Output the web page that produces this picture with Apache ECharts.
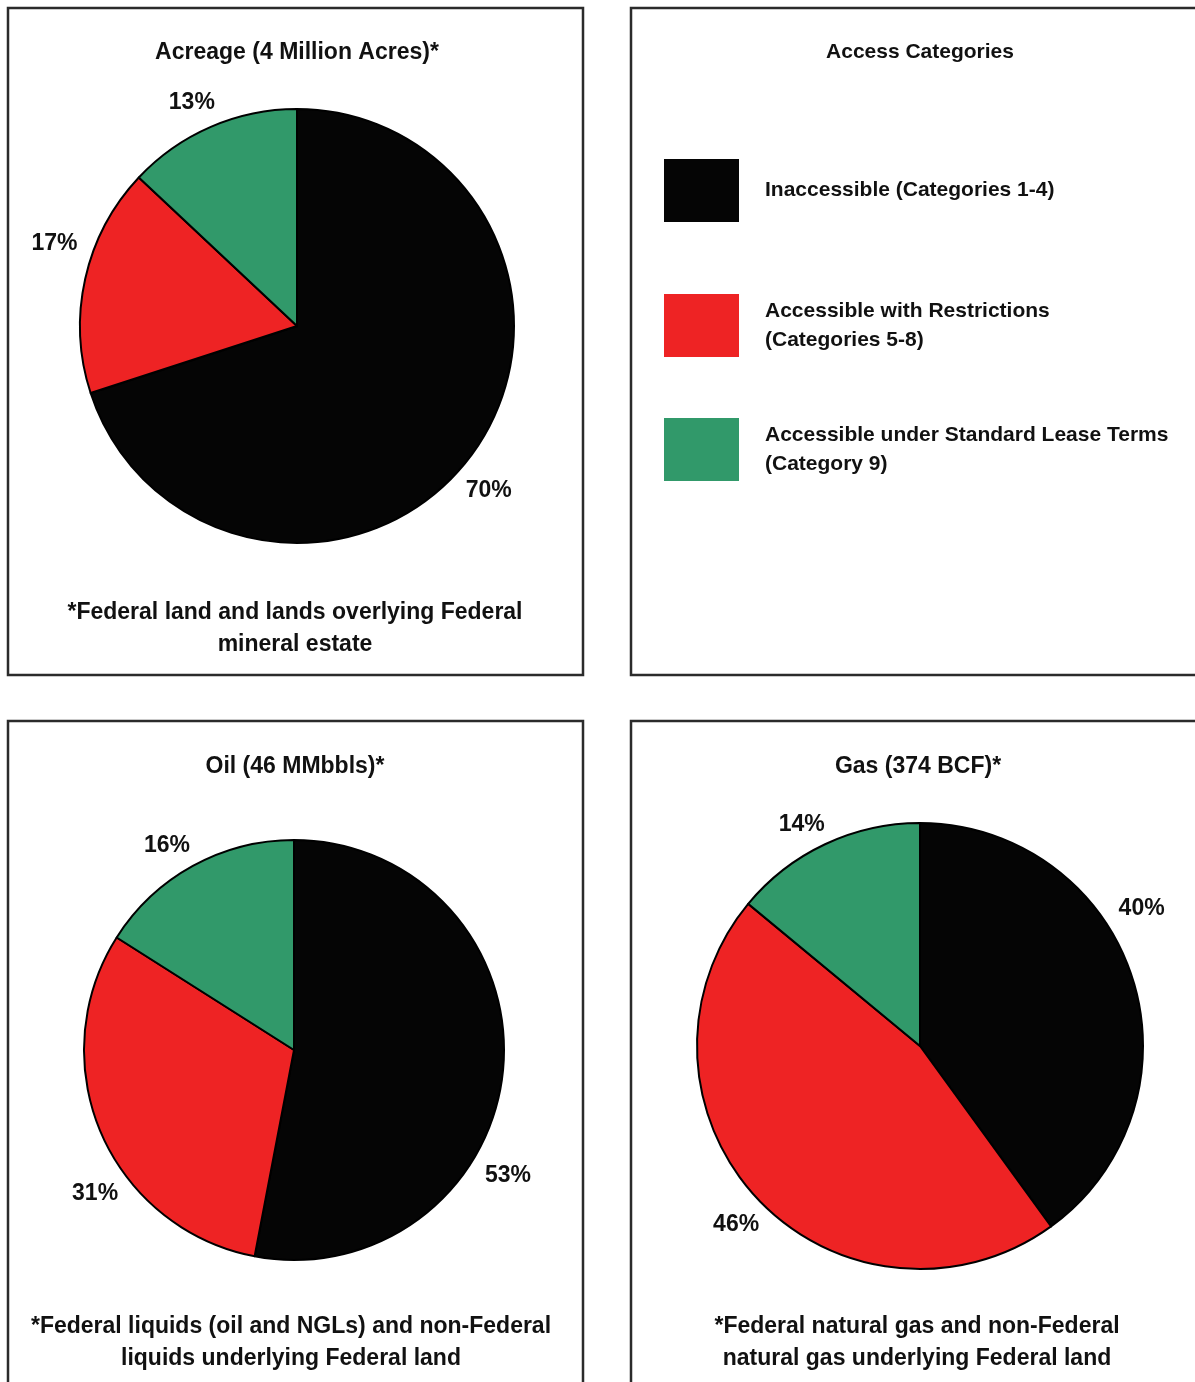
<!DOCTYPE html>
<html>
<head>
<meta charset="utf-8">
<script src="https://cdn.jsdelivr.net/npm/echarts@6/dist/echarts.min.js"></script>
<style>
html,body{margin:0;padding:0;background:#fff;}
#chart{width:1195px;height:1382px;}
</style>
</head>
<body>
<div id="chart"></div>
<script>
// ---- data ----
var categories = ['Inaccessible (Categories 1-4)', 'Accessible with Restrictions (Categories 5-8)', 'Accessible under Standard Lease Terms (Category 9)'];
var legendLabels = ['Inaccessible (Categories 1-4)', 'Accessible with Restrictions\n(Categories 5-8)', 'Accessible under Standard Lease Terms\n(Category 9)'];
var acreageValues = [70, 17, 13];
var oilValues = [53, 31, 16];
var gasValues = [40, 46, 14];
var panelTitles = ['Acreage (4 Million Acres)*', 'Access Categories', 'Oil (46 MMbbls)*', 'Gas (374 BCF)*'];
var footnotes = [
  '*Federal land and lands overlying Federal\nmineral estate',
  '*Federal liquids (oil and NGLs) and non-Federal\nliquids underlying Federal land',
  '*Federal natural gas and non-Federal\nnatural gas underlying Federal land'
];

// ---- styles / layout ----
var COLORS = ['#050505', '#ee2324', '#31996a'];
var FONT = '"Liberation Sans", Arial, sans-serif';
var FS = 23;
// label nudges (pixels) relative to default outside placement, per slice
var acreageNudge = [[-20, 31], [7, -33], [13, -15]];
var oilNudge = [[-33, 105], [31, 56], [7, -12]];
var gasNudge = [[-28, -65], [14, 19], [9, -11]];

function buildData(values) {
  return values.map(function (v, i) {
    return { name: categories[i], value: v, itemStyle: { color: COLORS[i] } };
  });
}

function pieSeries(values, center, radius, nudge) {
  return {
    type: 'pie',
    center: center,
    radius: radius,
    startAngle: 90,
    clockwise: true,
    avoidLabelOverlap: false,
    silent: true,
    itemStyle: { borderColor: '#000', borderWidth: 2 },
    label: {
      show: true,
      position: 'outside',
      formatter: '{c}%',
      color: '#111',
      fontFamily: FONT,
      fontWeight: 'bold',
      fontSize: FS
    },
    labelLine: { show: false, length: 10, length2: 0 },
    labelLayout: function (p) {
      var n = nudge[p.dataIndex];
      return { dx: n[0], dy: n[1] };
    },
    data: buildData(values)
  };
}

function legendFor(i, top) {
  return {
    left: 664,
    top: top,
    orient: 'vertical',
    padding: 0,
    itemWidth: 75,
    itemHeight: 63,
    icon: 'rect',
    selectedMode: false,
    itemStyle: { borderWidth: 0 },
    data: [categories[i]],
    formatter: function () { return legendLabels[i]; },
    textStyle: {
      fontFamily: FONT,
      fontWeight: 'bold',
      fontSize: 21,
      lineHeight: 29,
      color: '#111',
      padding: [0, 0, 0, 21]
    }
  };
}

function textEl(x, y, txt, size, lh) {
  return {
    type: 'text',
    x: x,
    y: y,
    silent: true,
    style: {
      text: txt,
      fill: '#111',
      font: 'bold ' + size + 'px ' + FONT,
      lineHeight: lh || size,
      textAlign: 'center',
      textVerticalAlign: 'middle'
    }
  };
}

function box(x, y, w, h) {
  return {
    type: 'rect',
    silent: true,
    shape: { x: x, y: y, width: w, height: h },
    style: { fill: 'none', stroke: '#2b2b2b', lineWidth: 2.5 }
  };
}

var chart = echarts.init(document.getElementById('chart'), null, { renderer: 'canvas' });
chart.setOption({
  animation: false,
  backgroundColor: '#fff',
  legend: [legendFor(0, 159), legendFor(1, 294), legendFor(2, 418)],
  graphic: [
    box(8, 8, 575, 667),
    box(631, 8, 600, 667),
    box(8, 721, 575, 700),
    box(631, 721, 600, 700),
    textEl(297, 53, panelTitles[0], 23),
    textEl(920, 52, panelTitles[1], 21),
    textEl(295, 767, panelTitles[2], 23),
    textEl(918, 767, panelTitles[3], 23),
    textEl(295, 629, footnotes[0], 23, 32),
    textEl(291, 1343, footnotes[1], 23, 32),
    textEl(917, 1343, footnotes[2], 23, 32)
  ],
  series: [
    pieSeries(acreageValues, [297, 326], 217, acreageNudge),
    pieSeries(oilValues, [294, 1050], 210, oilNudge),
    pieSeries(gasValues, [920, 1046], 223, gasNudge)
  ]
});
</script>
</body>
</html>
